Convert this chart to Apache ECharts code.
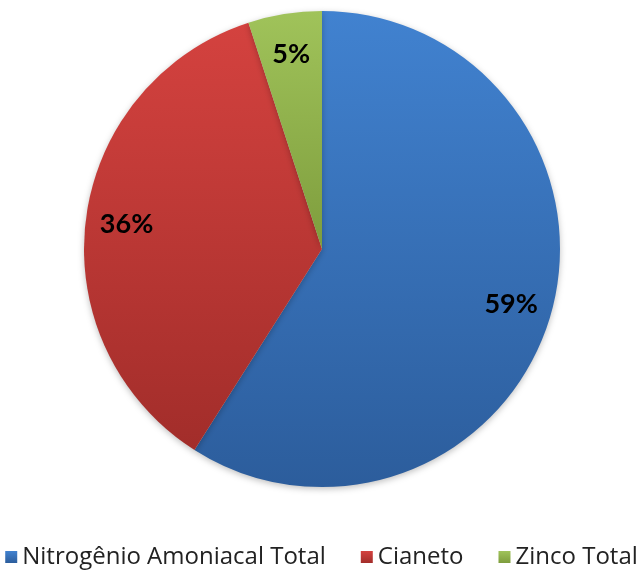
<!DOCTYPE html>
<html><head><meta charset="utf-8">
<script src="https://cdn.jsdelivr.net/npm/echarts@6/dist/echarts.min.js"></script>
<style>html,body{margin:0;padding:0;background:#fff}#c{width:643px;height:572px}</style>
</head><body><div id="c"></div>
<script>
const categories = ['Nitrogênio Amoniacal Total', 'Cianeto', 'Zinco Total'];
const values = [59, 36, 5];
const topColors = ['#4182D0', '#D4423F', '#A0C35A'];
const bottomColors = ['#2C5D9C', '#A22D2A', '#7E9D3D'];

const chart = echarts.init(document.getElementById('c'));
function grad(i){
  return new echarts.graphic.LinearGradient(0,0,0,1,[{offset:0,color:topColors[i]},{offset:1,color:bottomColors[i]}]);
}
const mainData = categories.map((n,i)=>({name:n, value:values[i], itemStyle:{color:grad(i)}}));
const labelData = categories.map((n,i)=>({name:n, value:values[i]}));
chart.setOption({
  animation:false,
  legend:{
    bottom:-2, left:'center', itemWidth:12, itemHeight:12, itemGap:35,
    icon:'rect',
    textStyle:{fontFamily:'Open Sans', fontSize:24, color:'#222', padding:[0,0,0,0]},
    data:categories.map((n,i)=>({name:n, itemStyle:{color:grad(i)}}))
  },
  series:[
    {type:'pie', center:[322,249], radius:[0,238], startAngle:90, clockwise:true,
     label:{show:false}, labelLine:{show:false}, silent:true,
     itemStyle:{shadowBlur:6, shadowColor:'rgba(0,0,0,0.25)', shadowOffsetY:2},
     data:mainData},
    {type:'pie', center:[322,249], radius:[150,238], startAngle:90, clockwise:true,
     silent:true, itemStyle:{color:'rgba(0,0,0,0)'}, labelLine:{show:false},
     label:{show:true, position:'inside', formatter:'{c}%', fontFamily:'Lato', fontWeight:'bold', fontSize:27, color:'#000'},
     legendHoverLink:false,
     data:labelData}
  ]
});
</script></body></html>
